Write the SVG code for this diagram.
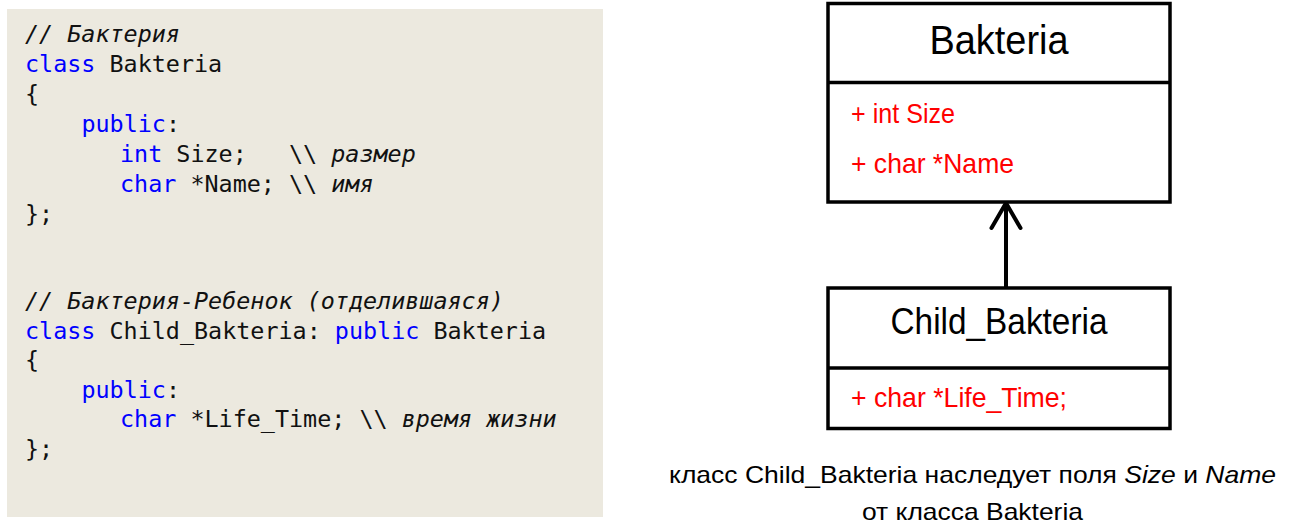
<svg xmlns="http://www.w3.org/2000/svg" width="1292" height="525" viewBox="0 0 1292 525">
  <style>
    .code { font-family: "DejaVu Sans Mono", "Liberation Mono", monospace; font-size: 23.4px; fill: #111; white-space: pre; }
    .kw { fill: #0000ff; }
    .cm { font-style: italic; }
    .box { fill: #fff; stroke: #000; stroke-width: 3.5; }
    .sep { stroke: #000; stroke-width: 3.5; }
    .title { font-family: "Liberation Sans", Arial, sans-serif; fill: #000; text-anchor: middle; }
    .attr { font-family: "Liberation Sans", Arial, sans-serif; font-size: 28px; fill: #ff0000; }
    .cap { font-family: "Liberation Sans", Arial, sans-serif; font-size: 24px; fill: #000; text-anchor: middle; }
    .edge { fill: none; stroke: #000; stroke-width: 4; }
  </style>
  <defs>
    <marker id="open-arrow" markerUnits="userSpaceOnUse" markerWidth="40" markerHeight="40"
            viewBox="-30 -20 40 40" refX="0" refY="0" orient="auto" overflow="visible">
      <path d="M-25,-14.5 L0,0 L-25,14.5" fill="none" stroke="#000" stroke-width="4" stroke-linecap="round"/>
    </marker>
  </defs>

  <rect width="1292" height="525" fill="#fff"/>

  <!-- source listing -->
  <g id="code-panel" class="code">
    <rect x="7" y="9" width="596" height="508" fill="#ece9df"/>
    <text xml:space="preserve" x="25" y="41.5" class="cm">// Бактерия</text>
    <text xml:space="preserve" x="25" y="71.5"><tspan class="kw">class</tspan> Bakteria</text>
    <text xml:space="preserve" x="25" y="101.5">{</text>
    <text xml:space="preserve" x="81.4" y="131.5"><tspan class="kw">public</tspan>:</text>
    <text xml:space="preserve" x="120" y="161.5"><tspan class="kw">int</tspan> Size;   \\ <tspan class="cm">размер</tspan></text>
    <text xml:space="preserve" x="120" y="191.5"><tspan class="kw">char</tspan> *Name; \\ <tspan class="cm">имя</tspan></text>
    <text xml:space="preserve" x="25" y="221.5">};</text>

    <text xml:space="preserve" x="25" y="308.5" class="cm">// Бактерия-Ребенок (отделившаяся)</text>
    <text xml:space="preserve" x="25" y="338.5"><tspan class="kw">class</tspan> Child_Bakteria: <tspan class="kw">public</tspan> Bakteria</text>
    <text xml:space="preserve" x="25" y="368">{</text>
    <text xml:space="preserve" x="81.4" y="397.5"><tspan class="kw">public</tspan>:</text>
    <text xml:space="preserve" x="120" y="427"><tspan class="kw">char</tspan> *Life_Time; \\ <tspan class="cm">время жизни</tspan></text>
    <text xml:space="preserve" x="25" y="456.5">};</text>
  </g>

  <!-- connectors -->
  <g id="connectors">
    <path class="edge" d="M1006,287 L1006,203" marker-end="url(#open-arrow)"/>
  </g>

  <!-- base class -->
  <g id="bakteria">
    <rect class="box" x="828" y="3.5" width="342" height="198.5"/>
    <line class="sep" x1="828" y1="82.5" x2="1170" y2="82.5"/>
    <text class="title" x="999" y="54" font-size="40" textLength="139" lengthAdjust="spacingAndGlyphs">Bakteria</text>
    <text class="attr" x="851" y="123.3" textLength="104" lengthAdjust="spacingAndGlyphs">+ int Size</text>
    <text class="attr" x="851" y="173.3" textLength="163" lengthAdjust="spacingAndGlyphs">+ char *Name</text>
  </g>

  <!-- derived class -->
  <g id="child-bakteria">
    <rect class="box" x="828" y="288" width="342" height="140.5"/>
    <line class="sep" x1="828" y1="368" x2="1170" y2="368"/>
    <text class="title" x="999" y="334" font-size="36" textLength="217" lengthAdjust="spacingAndGlyphs">Child_Bakteria</text>
    <text class="attr" x="851" y="406.7" textLength="216" lengthAdjust="spacingAndGlyphs">+ char *Life_Time;</text>
  </g>

  <!-- caption -->
  <g id="caption" class="cap">
    <text x="972.5" y="483" textLength="607" lengthAdjust="spacingAndGlyphs">класс Child_Bakteria наследует поля <tspan font-style="italic">Size</tspan> и <tspan font-style="italic">Name</tspan></text>
    <text x="972.5" y="520" textLength="221" lengthAdjust="spacingAndGlyphs">от класса Bakteria</text>
  </g>
</svg>
